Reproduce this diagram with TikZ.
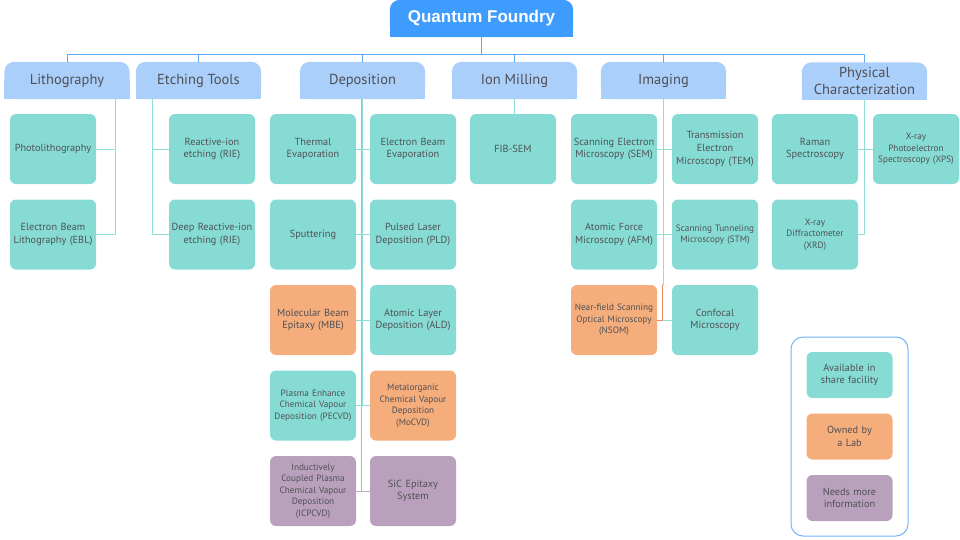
\documentclass[tikz,border=0pt]{standalone}
\usepackage{fontspec}
\setmainfont{PT Sans}
\newfontfamily\rootfont{Liberation Sans}
\usetikzlibrary{backgrounds}

\definecolor{rootblue}{HTML}{3F9CFF}
\definecolor{catblue}{HTML}{AACFFA}
\definecolor{busblue}{HTML}{5EAAF4}
\definecolor{availfill}{HTML}{86DCD4}
\definecolor{availedge}{HTML}{8EDFD7}
\definecolor{ownfill}{HTML}{F4AD7B}
\definecolor{owned}{HTML}{F08A5A}
\definecolor{needfill}{HTML}{B9A1BD}
\definecolor{needed}{HTML}{C2ADC6}
\definecolor{labelgray}{HTML}{505055}
\definecolor{legendblue}{HTML}{72B2FF}

\begin{document}
\begin{tikzpicture}[x=1pt,y=-1pt,line cap=round,line join=round,
  every node/.style={inner sep=1pt,text=labelgray},
  rootbox/.style={minimum width=183pt,minimum height=37pt,text=white,font=\rootfont\bfseries\fontsize{17}{19}\selectfont},
  catbox/.style={minimum width=125pt,minimum height=37pt,align=center,font=\fontsize{14.5}{17.5}\selectfont},
  leaf/.style={rounded corners=6pt,fill=availfill,minimum width=86pt,minimum height=70pt,text width=84pt,align=center,font=\fontsize{10.3}{12.7}\selectfont},
  small/.style={font=\fontsize{9.2}{11.5}\selectfont},
  own/.style={fill=ownfill},
  need/.style={fill=needfill},
  legitem/.style={leaf,minimum width=85pt,minimum height=46pt},
  busline/.style={draw=busblue,line width=1pt},
  availline/.style={draw=availedge,line width=1pt},
  ownline/.style={draw=owned,line width=1pt},
  needline/.style={draw=needed,line width=1pt}]
  \useasboundingbox (0,0) rectangle (960,539);

  \node[rootbox] (root) at (481.5,18.5) {Quantum Foundry};
  \node[catbox] (lith) at (67,80.5) {Lithography};
  \node[catbox] (etch) at (198.5,80.5) {Etching Tools};
  \node[catbox] (dep) at (362.5,80.5) {Deposition};
  \node[catbox] (ion) at (514.5,80.5) {Ion Milling};
  \node[catbox] (img) at (663.5,80.5) {Imaging};
  \node[catbox] (phys) at (864.5,81) {Physical\\Characterization};

  \begin{scope}[on background layer]
    \foreach \n/\col in {root/rootblue,lith/catblue,etch/catblue,dep/catblue,ion/catblue,img/catblue,phys/catblue} {
      \fill[\col,rounded corners=10pt] (\n.south west) rectangle (\n.north east);
      \fill[\col] (\n.south west) rectangle (\n.east);
    }
  \end{scope}

  \node[leaf] (photo) at (53,149) {Photolithography};
  \node[leaf] (ebl) at (53,234.5) {Electron Beam\\Lithography (EBL)};

  \node[leaf] (rie) at (212,149) {Reactive-ion\\etching (RIE)};
  \node[leaf] (drie) at (212,234.5) {Deep Reactive-ion\\etching (RIE)};

  \node[leaf] (therm) at (313,149) {Thermal\\Evaporation};
  \node[leaf] (ebeam) at (413,149) {Electron Beam\\Evaporation};
  \node[leaf] (sputter) at (313,234.5) {Sputtering};
  \node[leaf] (pld) at (413,234.5) {Pulsed Laser\\Deposition (PLD)};
  \node[leaf,own] (mbe) at (313,320) {Molecular Beam\\Epitaxy (MBE)};
  \node[leaf] (ald) at (413,320) {Atomic Layer\\Deposition (ALD)};
  \node[leaf,small] (pecvd) at (313,405.5) {Plasma Enhance\\Chemical Vapour\\Deposition (PECVD)};
  \node[leaf,small,own] (mocvd) at (413,405.5) {Metalorganic\\Chemical Vapour\\Deposition\\(MoCVD)};
  \node[leaf,small,need] (icpcvd) at (313,491) {Inductively\\Coupled Plasma\\Chemical Vapour\\Deposition\\(ICPCVD)};
  \node[leaf,need] (sic) at (413,491) {SiC Epitaxy\\System};

  \node[leaf] (fib) at (513,149) {FIB-SEM};

  \node[leaf] (sem) at (614,149) {Scanning Electron\\Microscopy (SEM)};
  \node[leaf] (tem) at (715,149) {Transmission\\Electron\\Microscopy (TEM)};
  \node[leaf] (afm) at (614,234.5) {Atomic Force\\Microscopy (AFM)};
  \node[leaf,small] (stm) at (715,234.5) {Scanning Tunneling\\Microscopy (STM)};
  \node[leaf,small,own] (nsom) at (614,320) {Near-field Scanning\\Optical Microscopy\\(NSOM)};
  \node[leaf] (confocal) at (715,320) {Confocal\\Microscopy};

  \node[leaf] (raman) at (815,149) {Raman\\Spectroscopy};
  \node[leaf,small] (xps) at (916,149) {X-ray\\Photoelectron\\Spectroscopy (XPS)};
  \node[leaf,small] (xrd) at (815,234.5) {X-ray\\Diffractometer\\(XRD)};

  \node[draw=legendblue,line width=1pt,rounded corners=12pt,minimum width=117pt,minimum height=199pt] (legend) at (849.5,436.5) {};
  \node[legitem] (legavail) at (849.5,375) {Available in\\share facility};
  \node[legitem,own] (legown) at (849.5,436.5) {Owned by\\a Lab};
  \node[legitem,need] (legneed) at (849.5,498) {Needs more\\information};

  \coordinate (bus) at (0,54);
  \draw[busline] (root.south) -- (root.south |- bus);
  \draw[busline] (lith.north) |- (bus -| phys.north) -- (phys.north);
  \foreach \c in {etch,dep,ion,img}
    \draw[busline] (\c.north) -- (\c.north |- bus);

  \draw[availline] ([xshift=48pt]lith.south) |- (ebl.east);
  \draw[availline] (photo.east) -- ([xshift=48pt]lith.south |- photo.east);
  \draw[availline] ([xshift=-46pt]etch.south) |- (drie.west);
  \draw[availline] (rie.west) -- ([xshift=-46pt]etch.south |- rie.west);

  \draw[needline] ([xshift=-1.5pt]dep.south) |- (icpcvd.east);
  \draw[needline] (icpcvd.east) -- (sic.west);
  \draw[availline] (dep.south) -- (dep.south |- pecvd.east);
  \foreach \l/\r in {therm/ebeam,sputter/pld,mbe/ald,pecvd/mocvd}
    \draw[availline] (\l.east) -- (\r.west);

  \draw[availline] (ion.south) -- (ion.south |- fib.north);

  \draw[availline] (img.south) -- (img.south |- nsom.north);
  \draw[ownline] ([xshift=-1pt]img.south |- nsom.north) |- (nsom.east);
  \draw[availline] (img.south |- confocal.west) -- (confocal.west);
  \foreach \l/\r in {sem/tem,afm/stm}
    \draw[availline] (\l.east) -- (\r.west);

  \draw[availline] (phys.south) |- (xrd.east);
  \draw[availline] (raman.east) -- (xps.west);
\end{tikzpicture}
\end{document}
